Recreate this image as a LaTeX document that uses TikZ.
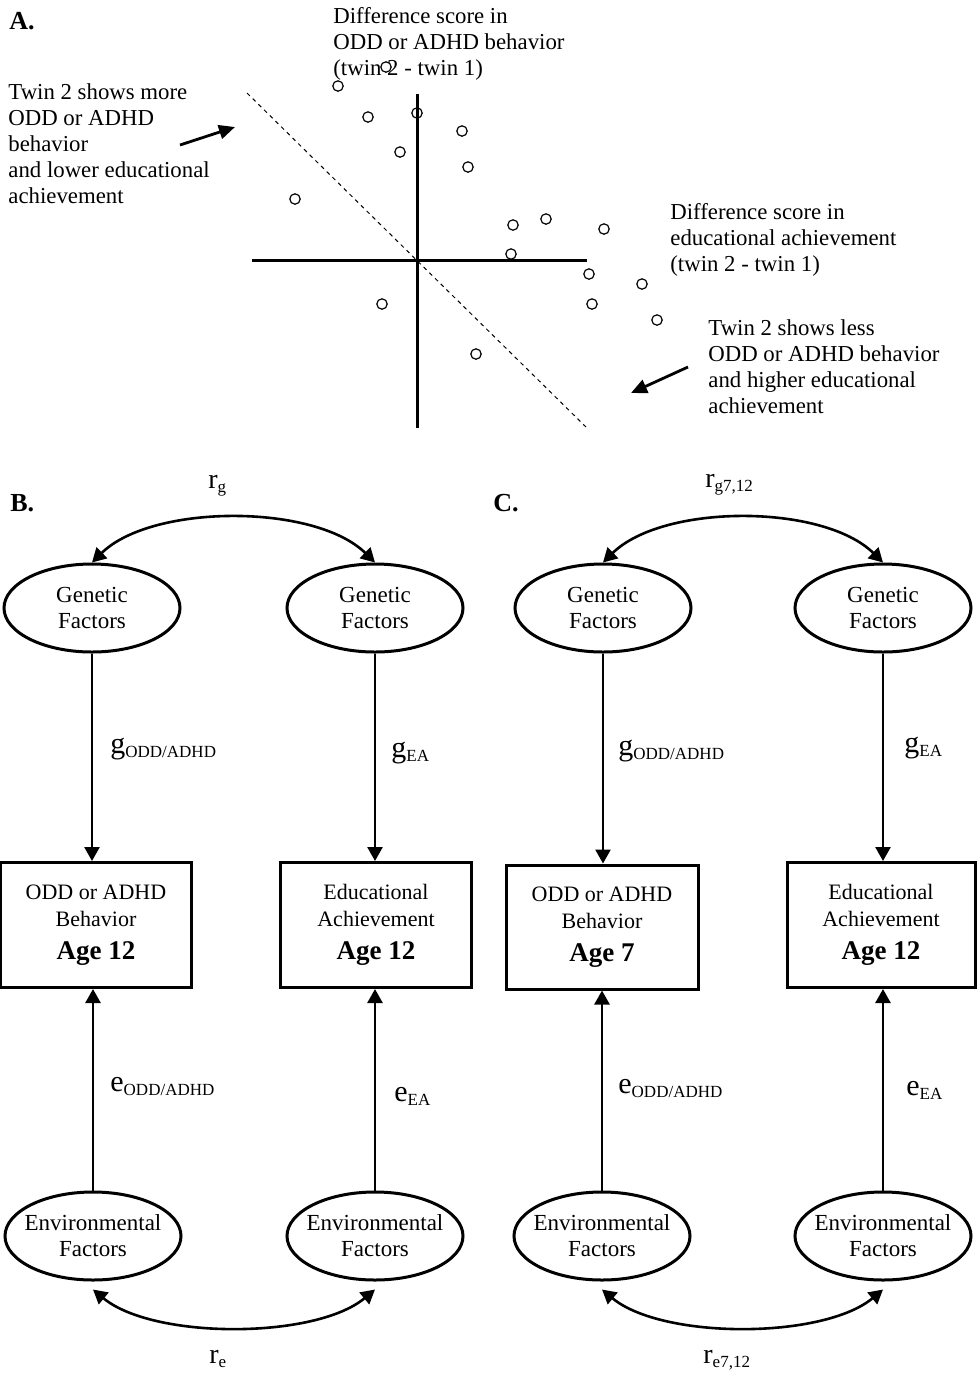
\documentclass[tikz,border=0pt]{standalone}
\usepackage{fontspec}
\setmainfont{Liberation Serif}
\usetikzlibrary{arrows.meta,shapes.geometric}
\newcommand{\mysub}[1]{\raisebox{-0.35ex}{\fontsize{8.5}{9}\selectfont #1}}
\begin{document}
\begin{tikzpicture}[x=0.5pt,y=-0.5pt,
  txt/.style={inner sep=0pt, align=left, anchor=north west, font=\fontsize{11.4}{13}\selectfont},
  ell/.style={draw, line width=1.5pt, ellipse, minimum width=88pt, minimum height=44pt, inner xsep=-14pt, inner ysep=-8pt, align=center, font=\fontsize{11.5}{13}\selectfont},
  box/.style={draw, line width=1.5pt, rectangle, minimum width=95.5pt, minimum height=62.5pt, inner sep=0pt, align=center, font=\fontsize{11}{13.5}\selectfont},
  arr/.style={line width=1.3pt, -{Triangle[length=7pt,width=7.5pt]}},
  dbl/.style={line width=1.3pt, {Triangle[length=7pt,width=7.5pt]}-{Triangle[length=7pt,width=7.5pt]}},
  big/.style={line width=1.4pt, -{Triangle[length=8pt,width=7pt]}},
  lab/.style={inner sep=0pt, anchor=base west},
  plbl/.style={inner sep=0pt, anchor=base west, font=\fontsize{13}{15}\selectfont\bfseries},
  dot/.style={line width=0.6pt},
  axis/.style={line width=1.5pt}
]
\useasboundingbox (0,0) rectangle (978,1373);

% ---------------- Panel A ----------------
\node[plbl] (pa) at (9,29) {A.};
\node[txt] (tl) at (8,83) {Twin 2 shows more\\ODD or ADHD\\behavior\\and lower educational\\achievement};
\node[txt] (ty) at (333,7) {Difference score in\\ODD or ADHD behavior\\(twin 2 - twin 1)};
\node[txt] (tx) at (670,203) {Difference score in\\educational achievement\\(twin 2 - twin 1)};
\node[txt] (tr) at (708,319) {Twin 2 shows less\\ODD or ADHD behavior\\and higher educational\\achievement};

\draw[line width=0.5pt, dash pattern=on 2pt off 2pt] (247,93) -- (587,428);
\draw[axis] (417,94) -- (417,428);
\draw[axis] (252,260) -- (587,260);

\coordinate (a1s) at (180,145);
\coordinate (a1e) at (235,127);
\draw[big] (a1s) -- (a1e);
\coordinate (a2s) at (688,367);
\coordinate (a2e) at (631,393);
\draw[big] (a2s) -- (a2e);

\foreach \p in {(338,86),(386,67),(368,117),(417,113),(462,131),(400,152),(468,167),(295,199),
  (513,225),(546,219),(604,229),(511,254),(589,274),(642,284),(592,304),(657,320),(382,304),(476,354)}
  \draw[dot] \p circle[radius=2.6pt];

% ---------------- Panel B ----------------
\node[plbl] (pb) at (10,511) {B.};
\node[ell] (bgL) at (92,608) {Genetic\\Factors};
\node[ell] (bgR) at (375,608) {Genetic\\Factors};
\node[box] (bbL) at (96,925) {ODD or ADHD\\Behavior\\[3pt]{\fontsize{13.5}{15}\selectfont\bfseries Age 12}};
\node[box] (bbR) at (376,925) {Educational\\Achievement\\[3pt]{\fontsize{13.5}{15}\selectfont\bfseries Age 12}};
\node[ell] (beL) at (93,1236) {Environmental\\Factors};
\node[ell] (beR) at (375,1236) {Environmental\\Factors};

\draw[dbl] (bgL.north) .. controls +(60,-59) and +(-60,-59) .. (bgR.north);
\draw[dbl] ([yshift=-4pt]beL.south) .. controls +(60,50) and +(-60,50) .. ([yshift=-4pt]beR.south);
\draw[arr] (bgL.south) -- (bbL.north -| bgL.south);
\draw[arr] (bgR.south) -- (bbR.north -| bgR.south);
\draw[arr] (beL.north) -- (bbL.south -| beL.north);
\draw[arr] (beR.north) -- (bbR.south -| beR.north);

\node[lab] (brg) at (208,488) {\fontsize{14}{16}\selectfont r\mysub{g}};
\node[lab] (bre) at (209,1363) {\fontsize{14}{16}\selectfont r\mysub{e}};
\node[lab] (bg1) at (110,753) {\fontsize{15}{16}\selectfont g\mysub{ODD/ADHD}};
\node[lab] (bg2) at (391,757) {\fontsize{15}{16}\selectfont g\mysub{EA}};
\node[lab] (be1) at (110,1091) {\fontsize{15}{16}\selectfont e\mysub{ODD/ADHD}};
\node[lab] (be2) at (394,1101) {\fontsize{15}{16}\selectfont e\mysub{EA}};

% ---------------- Panel C ----------------
\node[plbl] (pc) at (493,511) {C.};
\node[ell] (cgL) at (603,608) {Genetic\\Factors};
\node[ell] (cgR) at (883,608) {Genetic\\Factors};
\node[box, minimum width=96pt, minimum height=62pt] (cbL) at (602,927) {ODD or ADHD\\Behavior\\[3pt]{\fontsize{13.5}{15}\selectfont\bfseries Age 7}};
\node[box, minimum width=94pt] (cbR) at (881,925) {Educational\\Achievement\\[3pt]{\fontsize{13.5}{15}\selectfont\bfseries Age 12}};
\node[ell] (ceL) at (602,1236) {Environmental\\Factors};
\node[ell] (ceR) at (883,1236) {Environmental\\Factors};

\draw[dbl] (cgL.north) .. controls +(60,-59) and +(-60,-59) .. (cgR.north);
\draw[dbl] ([yshift=-4pt]ceL.south) .. controls +(60,50) and +(-60,50) .. ([yshift=-4pt]ceR.south);
\draw[arr] (cgL.south) -- (cbL.north -| cgL.south);
\draw[arr] (cgR.south) -- (cbR.north -| cgR.south);
\draw[arr] (ceL.north) -- (cbL.south -| ceL.north);
\draw[arr] (ceR.north) -- (cbR.south -| ceR.north);

\node[lab] (crg) at (705,487) {\fontsize{14}{16}\selectfont r\mysub{g7,12}};
\node[lab] (cre) at (703,1363) {\fontsize{14}{16}\selectfont r\mysub{e7,12}};
\node[lab] (cg1) at (618,755) {\fontsize{15}{16}\selectfont g\mysub{ODD/ADHD}};
\node[lab] (cg2) at (904,752) {\fontsize{15}{16}\selectfont g\mysub{EA}};
\node[lab] (ce1) at (618,1093) {\fontsize{15}{16}\selectfont e\mysub{ODD/ADHD}};
\node[lab] (ce2) at (906,1095) {\fontsize{15}{16}\selectfont e\mysub{EA}};
\end{tikzpicture}
\end{document}
